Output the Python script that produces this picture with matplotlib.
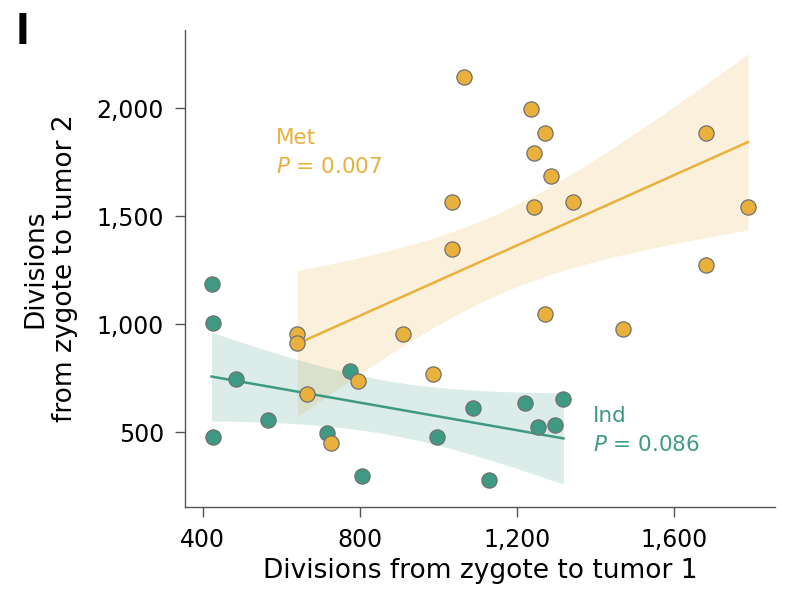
import matplotlib
matplotlib.use("Agg")
import matplotlib.pyplot as plt
import numpy as np

plt.rcParams["font.family"] = ["DejaVu Sans"]
plt.rcParams["mathtext.fontset"] = "dejavusans"

# ── data ────────────────────────────────────────────────────────────────────
met_x = [1065, 1236, 1271, 1244, 1287, 1244, 1342, 1682, 1788, 1682, 1270,
         1469, 1033, 1033, 640, 640, 909, 987, 796, 664, 726]
met_y = [2142, 1994, 1886, 1790, 1687, 1540, 1563, 1886, 1540, 1275, 1045,
         975, 1563, 1346, 952, 913, 952, 767, 736, 675, 450]

ind_x = [422, 425, 484, 774, 566, 425, 715, 804, 997, 1087, 1220, 1318,
         1254, 1297, 1129]
ind_y = [1187, 1003, 747, 784, 554, 475, 497, 296, 475, 611, 634, 651,
         522, 532, 278]

met_label, met_p = "Met", "0.007"
ind_label, ind_p = "Ind", "0.086"

x_ticks = [400, 800, 1200, 1600]
y_ticks = [500, 1000, 1500, 2000]

ORANGE = "#E9B13C"
GREEN = "#3F9A84"
T975 = {19: 2.093, 13: 2.160}  # t quantiles for 95% CI


def fit_band(x, y, ax, color):
    x = np.asarray(x, float)
    y = np.asarray(y, float)
    n = len(x)
    b, a = np.polyfit(x, y, 1)
    xs = np.linspace(x.min(), x.max(), 200)
    yhat = a + b * xs
    resid = y - (a + b * x)
    s = np.sqrt((resid ** 2).sum() / (n - 2))
    sxx = ((x - x.mean()) ** 2).sum()
    half = T975[n - 2] * s * np.sqrt(1 / n + (xs - x.mean()) ** 2 / sxx)
    ax.fill_between(xs, yhat - half, yhat + half, color=color, alpha=0.18,
                    lw=0, zorder=1)
    ax.plot(xs, yhat, color=color, lw=1.8, zorder=2)


fig = plt.figure(figsize=(8, 6.13), dpi=100)
ax = fig.add_axes([0.231, 0.173, 0.738, 0.778])

fit_band(met_x, met_y, ax, ORANGE)
fit_band(ind_x, ind_y, ax, GREEN)

ax.scatter(ind_x, ind_y, s=120, color=GREEN, edgecolor="#707070", lw=0.9, zorder=3)
ax.scatter(met_x, met_y, s=120, color=ORANGE, edgecolor="#707070", lw=0.9, zorder=4)

ax.text(585, 1907, met_label + "\n$P$ = " + met_p, color=ORANGE, fontsize=15.5,
        ha="left", va="top", linespacing=1.55)
ax.text(1393, 620, ind_label + "\n$P$ = " + ind_p, color=GREEN, fontsize=15.5,
        ha="left", va="top", linespacing=1.55)

ax.set_xlim(354, 1857)
ax.set_ylim(153, 2361)
ax.set_xticks(x_ticks)
ax.set_yticks(y_ticks)
ax.set_xticklabels([f"{v:,}" for v in x_ticks])
ax.set_yticklabels([f"{v:,}" for v in y_ticks])
ax.tick_params(direction="out", length=7, width=1, color="#555555",
               labelsize=17, pad=8)
ax.spines[["top", "right"]].set_visible(False)
for sp in ["left", "bottom"]:
    ax.spines[sp].set_color("#555555")
    ax.spines[sp].set_linewidth(1)

ax.set_xlabel("Divisions from zygote to tumor 1", fontsize=19)
ax.xaxis.set_label_coords(0.5, -0.106)
ax.set_ylabel("Divisions\nfrom zygote to tumor 2", fontsize=19,
              linespacing=1.2)
ax.yaxis.set_label_coords(-0.181, 0.5)

fig.text(0.02, 0.978, "l", fontsize=29, fontweight="bold", va="top")

fig.savefig("out.png", dpi=100, facecolor="white")
